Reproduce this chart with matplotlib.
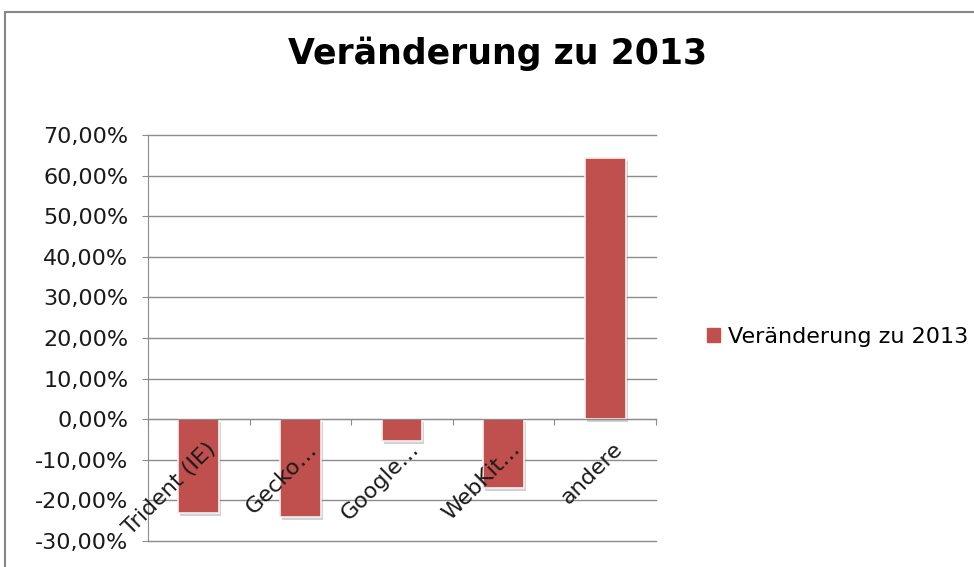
import matplotlib
matplotlib.use("Agg")
import matplotlib.pyplot as plt
import matplotlib.transforms as mtransforms
from matplotlib.patches import Rectangle
from matplotlib.ticker import FuncFormatter, FixedLocator
import numpy as np

categories = ["Trident (IE)", "Gecko…", "Google…", "WebKit…", "andere"]
values = [-23.0, -24.0, -5.3, -17.0, 64.3]
series_name = "Veränderung zu 2013"
title = "Veränderung zu 2013"
yticks = [-30, -20, -10, 0, 10, 20, 30, 40, 50, 60, 70]

plt.rcParams['font.family'] = ['DejaVu Sans']

fig = plt.figure(figsize=(9.74, 5.67), dpi=100)
fig.patch.set_facecolor('white')
ax = fig.add_axes([148/974, 1-541/567, (656-148)/974, (541-135)/567])

x = np.arange(len(categories))
bar_color = '#C0504D'
# subtle shadow
ax.bar(x, values, width=0.4, color='#7f7f7f', alpha=0.35, zorder=2,
       transform=ax.transData + mtransforms.ScaledTranslation(2/100, -3/100, fig.dpi_scale_trans))
ax.bar(x, values, width=0.4, color=bar_color, edgecolor='#f2f2f2', linewidth=1.2,
       zorder=3, label=series_name)

ax.set_xlim(-0.5, len(categories) - 0.5)
ax.set_ylim(-30, 70)
ax.yaxis.set_major_locator(FixedLocator(yticks))
ax.yaxis.set_major_formatter(FuncFormatter(lambda v, p: f"{v:.2f}%".replace('.', ',')))
ax.grid(axis='y', color='#8c8c8c', linewidth=1.0, zorder=0)
for gl in ax.get_ygridlines():
    gl.set_clip_on(False)
ax.set_axisbelow(True)

for s in ['top', 'right']:
    ax.spines[s].set_visible(False)
ax.spines['left'].set_color('#8c8c8c')
ax.spines['bottom'].set_position(('data', 0))
ax.spines['bottom'].set_color('#8c8c8c')
ax.spines['bottom'].set_zorder(4)

ax.set_xticks(np.arange(len(categories) + 1) - 0.5)
ax.set_xticklabels([])
ax.tick_params(axis='x', direction='out', length=4.5, color='#8c8c8c')
ax.tick_params(axis='y', direction='out', length=4, color='#8c8c8c', labelsize=16,
               labelcolor='#1a1a1a', pad=10)

for i, c in enumerate(categories):
    off = mtransforms.ScaledTranslation(18/100, -31/100, fig.dpi_scale_trans)
    ax.text(i, 0, c, rotation=45, ha='right', va='baseline', rotation_mode='anchor',
            fontsize=16, color='#1a1a1a', transform=ax.transData + off, zorder=5)

fig.text(498/974, 1-64/567, title, ha='center', va='baseline', fontsize=25,
         fontweight='bold', color='black')

leg = fig.legend(handles=[Rectangle((0, 0), 1, 1, color=bar_color)], labels=[series_name],
                 loc='center left', bbox_to_anchor=(700/974, 1-337/567), frameon=False,
                 fontsize=16, handlelength=0.6, handleheight=0.6, handletextpad=0.35,
                 borderaxespad=0, borderpad=0.3)

fig.add_artist(Rectangle((5/974, -0.1), 1.1, 1.1 - 12/567, transform=fig.transFigure,
                         fill=False, edgecolor='#868686', linewidth=1.5))

fig.savefig('out.png', dpi=100)
